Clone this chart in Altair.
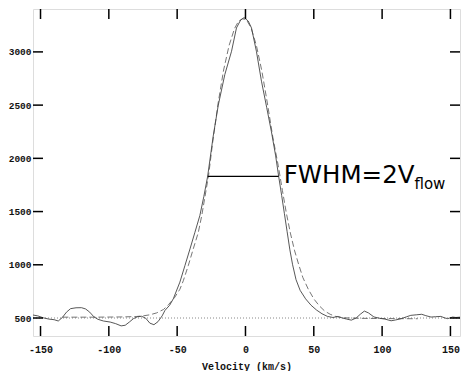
import altair as alt
import pandas as pd

# ---- data ----
solid_v = [-155.5, -152, -148, -144, -140, -137, -134, -131, -128, -124, -120, -117, -114, -111,
           -108, -104, -99, -95, -91, -88, -85, -82, -79, -76, -73, -70, -67, -64, -61, -58.9,
           -55.5, -52.8, -48, -44.3, -40.6, -37, -33.4, -30.5, -27.7, -23.6, -19.9, -15.1, -10.2,
           -6.6, -3.5, -1, 2, 4.4, 8, 11.7, 15.5, 19, 22, 24.3, 26.5, 28.5, 30.5, 32.5, 34.5, 37,
           40, 44, 48, 52, 56, 60, 64, 67.5, 71, 74, 77.5, 81, 84, 87, 90, 94, 98, 102, 106.6,
           110, 114, 118, 121, 125, 129, 132, 135.8, 139, 143, 146, 148, 151.6, 154, 157]
solid_i = [528, 520, 502, 490, 484, 472, 505, 555, 588, 596, 597, 585, 555, 512,
           488, 472, 462, 447, 426, 432, 462, 494, 512, 516, 498, 452, 437, 466, 520, 572,
           620, 681, 837, 993, 1149, 1305, 1462, 1640, 1830, 2210, 2500, 2788, 3006,
           3225, 3300, 3322, 3290, 3225, 3006, 2725, 2480, 2250, 2030, 1830, 1650, 1480, 1310, 1140, 1000, 860,
           760, 680, 620, 575, 540, 515, 505, 514, 500, 490, 480, 500, 535, 565, 548, 510, 498, 490, 474,
           482, 494, 512, 525, 530, 535, 522, 509, 512, 515, 500, 494, 509, 505, 508]

fit_v = [-134, -110, -90, -80, -75, -70, -65, -60, -56.4, -52, -48, -45.5, -41.8, -38.2, -34.5,
         -32, -27, -24, -20, -16, -12, -8, -5, -2, 1, 4, 8, 12, 16, 20, 24, 27, 30, 33, 36, 39,
         42, 46, 50, 54, 58, 62, 66, 72, 85, 100, 126]
fit_i = [508, 508, 510, 514, 520, 530, 548, 580, 625, 690, 770, 850, 995, 1150, 1305,
         1462, 1840, 2150, 2520, 2830, 3060, 3220, 3290, 3312, 3295, 3230, 3060, 2820, 2520, 2200, 1930, 1700, 1480, 1290, 1130, 1000,
         880, 770, 680, 615, 565, 535, 515, 502, 497, 495, 493]

base_v = [-155.5, 157]
base_i = [500, 500]

fwhm_v = [-27.7, 24.3]
fwhm_i = [1830, 1830]

x_ticks = [-150, -100, -50, 0, 50, 100, 150]
y_ticks = [500, 1000, 1500, 2000, 2500, 3000]

label_main = "FWHM=2V"
label_sub = "flow"
label_v = 28.0
label_i = 1764

X_DOM = [-155.5, 157]
Y_DOM = [331, 3403]
W, H = 427, 327
TL = 10
MAIN_FS = 24.5

xs = alt.Scale(domain=X_DOM, nice=False, zero=False)
ys = alt.Scale(domain=Y_DOM, nice=False, zero=False)

solid_df = pd.DataFrame({"v": solid_v, "i": solid_i})
fit_df = pd.DataFrame({"v": fit_v, "i": fit_i})
base_df = pd.DataFrame({"v": base_v, "i": base_i})
fwhm_df = pd.DataFrame({"v": fwhm_v, "i": fwhm_i})
xt_df = pd.DataFrame({"t": x_ticks})
yt_df = pd.DataFrame({"t": y_ticks})
lab_df = pd.DataFrame({"v": [label_v], "i": [label_i], "main": [label_main], "sub": [label_sub]})

axis_font = "Liberation Mono"

x_axis = alt.Axis(values=x_ticks, ticks=False, domain=False, grid=False, labelFont=axis_font,
                  labelFontWeight="bold", labelFontSize=10, labelColor="#111", labelPadding=8,
                  labelExpr="toString(datum.value)", title="Velocity (km/s)", titleFont=axis_font,
                  titleFontWeight="bold", titleFontSize=10, titleColor="#111", titlePadding=7)
y_axis = alt.Axis(values=y_ticks, ticks=False, domain=False, grid=False, labelFont=axis_font,
                  labelFontWeight="bold", labelFontSize=9.5, labelColor="#111", labelPadding=2,
                  labelExpr="toString(datum.value)", title=None)

baseline = alt.Chart(base_df).mark_line(color="#888", strokeWidth=1, strokeDash=[1, 2]).encode(
    x=alt.X("v:Q", scale=xs, axis=x_axis), y=alt.Y("i:Q", scale=ys, axis=y_axis))

fit = alt.Chart(fit_df).mark_line(color="#666", strokeWidth=0.9, strokeDash=[6, 3]).encode(
    x=alt.X("v:Q", scale=xs), y=alt.Y("i:Q", scale=ys), order="v:Q")

solid = alt.Chart(solid_df).mark_line(color="#444", strokeWidth=0.9).encode(
    x=alt.X("v:Q", scale=xs), y=alt.Y("i:Q", scale=ys), order="v:Q")

fwhm = alt.Chart(fwhm_df).mark_line(color="#000", strokeWidth=1.3).encode(
    x=alt.X("v:Q", scale=xs), y=alt.Y("i:Q", scale=ys))

main_txt = alt.Chart(lab_df).mark_text(align="left", baseline="alphabetic", font="DejaVu Sans",
                                       fontSize=MAIN_FS, color="#000").encode(
    x=alt.X("v:Q", scale=xs), y=alt.Y("i:Q", scale=ys), text="main:N")

sub_txt = alt.Chart(lab_df).mark_text(align="left", baseline="alphabetic", font="DejaVu Sans",
                                      fontSize=15, color="#000", dx=5.337 * MAIN_FS, dy=6).encode(
    x=alt.X("v:Q", scale=xs), y=alt.Y("i:Q", scale=ys), text="sub:N")

tick_style = dict(color="#000", strokeWidth=1.5)
bottom_ticks = alt.Chart(xt_df).mark_rule(**tick_style).encode(
    x=alt.X("t:Q", scale=xs), y=alt.value(H), y2=alt.value(H - TL))
top_ticks = alt.Chart(xt_df).mark_rule(**tick_style).encode(
    x=alt.X("t:Q", scale=xs), y=alt.value(0), y2=alt.value(TL))
left_ticks = alt.Chart(yt_df).mark_rule(**tick_style).encode(
    y=alt.Y("t:Q", scale=ys), x=alt.value(0), x2=alt.value(TL))
right_ticks = alt.Chart(yt_df).mark_rule(**tick_style).encode(
    y=alt.Y("t:Q", scale=ys), x=alt.value(W), x2=alt.value(W - TL))

chart = alt.layer(baseline, fit, solid, fwhm, main_txt, sub_txt,
                  bottom_ticks, top_ticks, left_ticks, right_ticks).properties(
    width=W, height=H, padding=0
).configure_view(stroke="#000", strokeWidth=1.5).configure(background="white")

chart.save("out.html", embed_options={"renderer": "svg", "actions": False})
